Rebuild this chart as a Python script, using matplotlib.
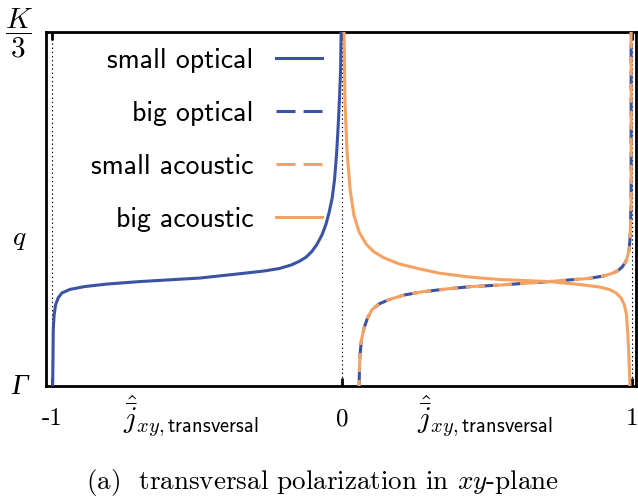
import matplotlib
matplotlib.use('Agg')
import matplotlib.pyplot as plt
from matplotlib.lines import Line2D

plt.rcParams['mathtext.fontset'] = 'cm'
plt.rcParams['axes.unicode_minus'] = False
plt.rcParams['lines.scale_dashes'] = False

# dispersion branches: polarization component (x) against wave vector q (y)
small_optical_q = [0.0, 0.073, 0.158, 0.201, 0.229, 0.249, 0.263, 0.273, 0.281, 0.288, 0.295,
                   0.305, 0.318, 0.325, 0.332, 0.342, 0.352, 0.364, 0.381, 0.401, 0.427, 0.458,
                   0.489, 0.531, 0.582, 0.653, 0.723, 0.808, 0.893, 1.0]
small_optical_j = [-0.998, -0.997, -0.996, -0.993, -0.988, -0.979, -0.966, -0.938, -0.887, -0.811, -0.698,
                   -0.491, -0.344, -0.268, -0.216, -0.175, -0.148, -0.124, -0.103, -0.086, -0.069, -0.055,
                   -0.045, -0.034, -0.026, -0.019, -0.014, -0.009, -0.005, -0.003]

big_optical_q = [0.0, 0.045, 0.088, 0.130, 0.164, 0.192, 0.215, 0.232, 0.244, 0.257, 0.266, 0.275,
                 0.281, 0.285, 0.295, 0.304, 0.311, 0.318, 0.326, 0.336, 0.350, 0.364, 0.384, 0.412,
                 0.455, 0.525, 1.0]
big_optical_j = [0.059, 0.060, 0.062, 0.067, 0.076, 0.088, 0.103, 0.128, 0.162, 0.214, 0.276, 0.369,
                 0.448, 0.541, 0.714, 0.852, 0.903, 0.931, 0.952, 0.966, 0.978, 0.984, 0.990, 0.993,
                 0.995, 0.997, 0.997]

small_acoustic_q = [0.0, 0.045, 0.088, 0.130, 0.164, 0.192, 0.215, 0.232, 0.244, 0.257, 0.266, 0.275,
                    0.281, 0.285, 0.295, 0.304, 0.311, 0.318, 0.326, 0.336, 0.350, 0.364, 0.384, 0.412,
                    0.455, 0.525, 1.0]
small_acoustic_j = [0.059, 0.060, 0.062, 0.067, 0.076, 0.088, 0.103, 0.128, 0.162, 0.214, 0.276, 0.369,
                    0.448, 0.541, 0.714, 0.852, 0.903, 0.931, 0.952, 0.966, 0.978, 0.984, 0.990, 0.993,
                    0.995, 0.997, 0.997]

big_acoustic_q = [1.0, 0.808, 0.667, 0.554, 0.483, 0.435, 0.401, 0.379, 0.362, 0.345, 0.331, 0.319,
                  0.308, 0.301, 0.295, 0.287, 0.280, 0.273, 0.263, 0.249, 0.229, 0.201, 0.144, 0.073, 0.0]
big_acoustic_j = [0.007, 0.010, 0.017, 0.028, 0.041, 0.059, 0.083, 0.110, 0.145, 0.197, 0.266, 0.334,
                  0.438, 0.541, 0.714, 0.817, 0.886, 0.921, 0.945, 0.962, 0.974, 0.981, 0.986, 0.990, 0.993]

x_ticks = [-1, 0, 1]
x_tick_labels = ['-1', '0', '1']
labels = ['small optical', 'big optical', 'small acoustic', 'big acoustic']

blue = '#3a53a4'
orange = '#f5a263'

fig = plt.figure(figsize=(6.38, 5.01), dpi=100)
ax = fig.add_axes([0.0721, 0.2295, 0.9248, 0.7066])

for xv in x_ticks:
    ax.axvline(xv, color='black', linestyle=(0, (1, 2)), linewidth=0.8, zorder=1)

dash = (13.7, 5.8)
ax.plot(small_optical_j, small_optical_q, color=blue, lw=2.2, zorder=3)
ax.plot(big_optical_j, big_optical_q, color=blue, lw=2.2, linestyle=(0, dash), zorder=3)
# orange dashes shifted so the blue dashes show through the gaps
ax.plot(small_acoustic_j, small_acoustic_q, color=orange, lw=2.2, linestyle=(9.4, dash), zorder=4)
ax.plot(big_acoustic_j, big_acoustic_q, color=orange, lw=2.2, zorder=3)

handles = [Line2D([], [], color=blue, lw=2.2),
           Line2D([], [], color=blue, lw=2.2, linestyle=(0, dash)),
           Line2D([], [], color=orange, lw=2.2, linestyle=(0, dash)),
           Line2D([], [], color=orange, lw=2.2)]

ax.set_xlim(-1.021, 1.014)
ax.set_ylim(0, 1)

ax.set_xticks(x_ticks)
ax.set_xticklabels(x_tick_labels, family='cmr10', fontsize=18)
ax.tick_params(axis='x', direction='in', top=True, bottom=True, length=6, width=2, pad=16)
ax.set_yticks([])

for s in ax.spines.values():
    s.set_linewidth(2)

# y-axis markers
ax.text(-0.046, 0.995, r'$\dfrac{K}{3}$', transform=ax.transAxes, ha='center', va='center', fontsize=21)
ax.text(-0.046, 0.418, r'$q$', transform=ax.transAxes, ha='center', va='center', fontsize=20)
ax.text(-0.044, -0.003, 'Γ', transform=ax.transAxes, ha='center', va='center', fontsize=21,
        family='Liberation Serif', style='italic')

# x-axis quantities under each half
jlabel = r'$\hat{\bar{j}}_{xy,\mathsf{transversal}}$'
ax.text(-0.522, -0.02, jlabel, transform=ax.get_xaxis_transform(), ha='center', va='top', fontsize=21)
ax.text(0.493, -0.02, jlabel, transform=ax.get_xaxis_transform(), ha='center', va='top', fontsize=21)

ax.legend(handles, labels, loc='upper right', bbox_to_anchor=(0.468, 0.955), frameon=False,
          markerfirst=False, prop={'family': 'cmss10', 'size': 20}, handlelength=1.65,
          handletextpad=0.83, labelspacing=1.01, borderpad=0, borderaxespad=0)

fig.text(0.505, 0.036, r'(a)  transversal polarization in $xy$-plane', family='cmr10',
         fontsize=19.5, ha='center', va='center')

fig.savefig('out.png', dpi=100)
